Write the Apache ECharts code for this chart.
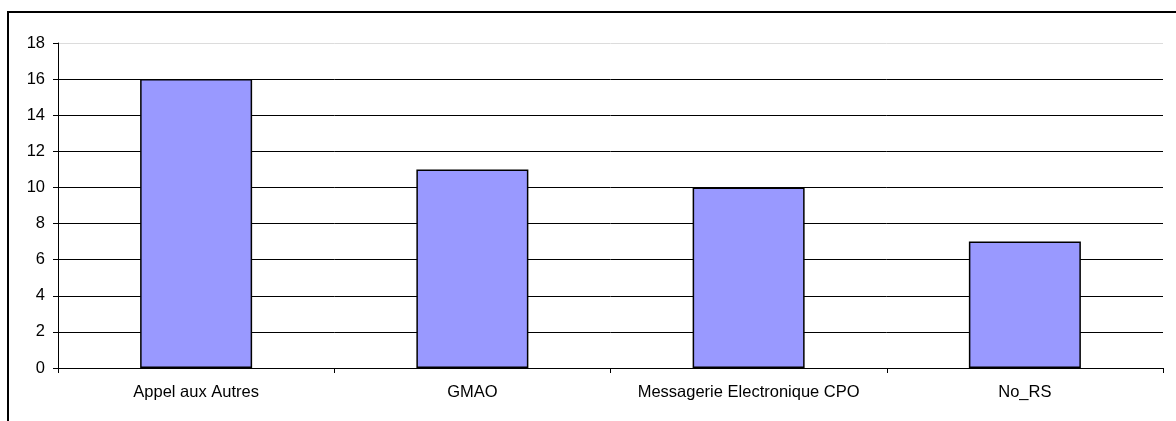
<!DOCTYPE html>
<html>
<head>
<meta charset="utf-8">
<script src="https://cdn.jsdelivr.net/npm/echarts@6/dist/echarts.min.js"></script>
<style>
  html, body { margin: 0; padding: 0; background: #fff; }
  #chart { width: 1176px; height: 421px; }
</style>
</head>
<body>
<div id="chart"></div>
<script>
// categories and values
const categories = ["Appel aux Autres", "GMAO", "Messagerie Electronique CPO", "No_RS"];
const values = [16, 11, 10, 7];
const yTicks = [0, 2, 4, 6, 8, 10, 12, 14, 16, 18];

// grid lines: black, top one pale
const splitColors = yTicks.map((t, i) => (i === yTicks.length - 1 ? "#dcdcdc" : "#000"));

const chart = echarts.init(document.getElementById("chart"));
chart.setOption({
  animation: false,
  textStyle: { fontFamily: "Liberation Sans, Arial, sans-serif" },
  grid: { left: 58, right: 13, top: 43, bottom: 53 },
  graphic: [
    {
      type: "rect",
      shape: { x: 8, y: 12, width: 1300, height: 600 },
      style: { fill: "none", stroke: "#000", lineWidth: 2 },
      silent: true
    }
  ],
  xAxis: {
    type: "category",
    data: categories,
    axisLine: { lineStyle: { color: "#000", width: 1 } },
    axisTick: { show: true, length: 5, interval: 0, lineStyle: { color: "#000" } },
    axisLabel: { color: "#000", fontSize: 16.5, margin: 16, interval: 0, hideOverlap: false }
  },
  yAxis: {
    type: "value",
    min: yTicks[0],
    max: yTicks[yTicks.length - 1],
    interval: 2,
    axisLine: { show: true, lineStyle: { color: "#000", width: 1 } },
    axisTick: { show: true, length: 5, lineStyle: { color: "#000" } },
    axisLabel: { color: "#000", fontSize: 16.5, margin: 13 },
    splitLine: { show: true, lineStyle: { color: splitColors, width: 1 } }
  },
  series: [
    {
      type: "bar",
      data: values,
      barWidth: 112,
      itemStyle: { color: "#9999ff", borderColor: "#000", borderWidth: 1.5 }
    }
  ]
});
</script>
</body>
</html>
